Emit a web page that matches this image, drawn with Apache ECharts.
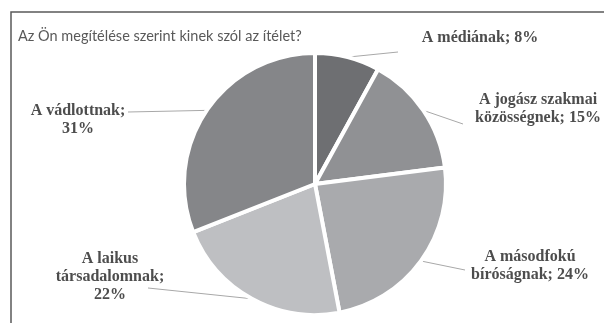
<!DOCTYPE html>
<html>
<head>
<meta charset="utf-8">
<script src="https://cdn.jsdelivr.net/npm/echarts@6/dist/echarts.min.js"></script>
<style>html,body{margin:0;padding:0;background:#fff;}#c{width:604px;height:323px;}</style>
</head>
<body>
<div id="c"></div>
<script>
// Data
const categories = ["A médiának", "A jogász szakmai\nközösségnek", "A másodfokú\nbíróságnak", "A laikus\ntársadalomnak", "A vádlottnak"];
const values = [8, 15, 24, 22, 31];
const separators = [" ", " ", " ", "\n", "\n"];
const titleText = "Az Ön megítélése szerint kinek szól az ítélet?";

// Styles / layout (not data)
const colors = ["#6e6f72", "#909194", "#a9aaad", "#bebfc2", "#858689"];
const labelPos = [[480, 38], [538, 109], [530, 266], [110, 277], [78, 120]];
const lineEnd = [[398, 52], [463, 124], [465, 270], [148, 288], [128, 112]];

const chart = echarts.init(document.getElementById('c'), null, {renderer: 'canvas'});
chart.setOption({
  animation: false,
  title: {
    text: titleText, left: 13, top: 24,
    textStyle: {fontFamily: 'Lato', fontWeight: 'normal', fontSize: 14.5, color: '#595959'}
  },
  graphic: [{
    type: 'rect', shape: {x: 11, y: 12, width: 800, height: 500},
    style: {fill: 'none', stroke: '#5a5a5a', lineWidth: 1.5}, silent: true
  }],
  series: [{
    type: 'pie',
    center: [315, 184],
    radius: [0, 131],
    startAngle: 90,
    avoidLabelOverlap: false,
    itemStyle: {borderColor: '#fff', borderWidth: 4},
    label: {
      show: true, position: 'outside',
      fontFamily: 'Liberation Serif', fontWeight: 'bold', fontSize: 16, lineHeight: 18,
      color: '#4d4d4d', align: 'center',
      formatter: p => p.name + ';' + separators[p.dataIndex] + p.value + '%'
    },
    labelLine: {show: true, length: 10, length2: 0, lineStyle: {color: '#a8a8a8', width: 1}},
    labelLayout: function (params) {
      const i = params.dataIndex;
      return {
        x: labelPos[i][0], y: labelPos[i][1], align: 'center', verticalAlign: 'middle',
        labelLinePoints: [params.labelLinePoints[0], lineEnd[i]]
      };
    },
    data: categories.map((c, i) => ({name: c, value: values[i], itemStyle: {color: colors[i]}}))
  }]
});
</script>
</body>
</html>
